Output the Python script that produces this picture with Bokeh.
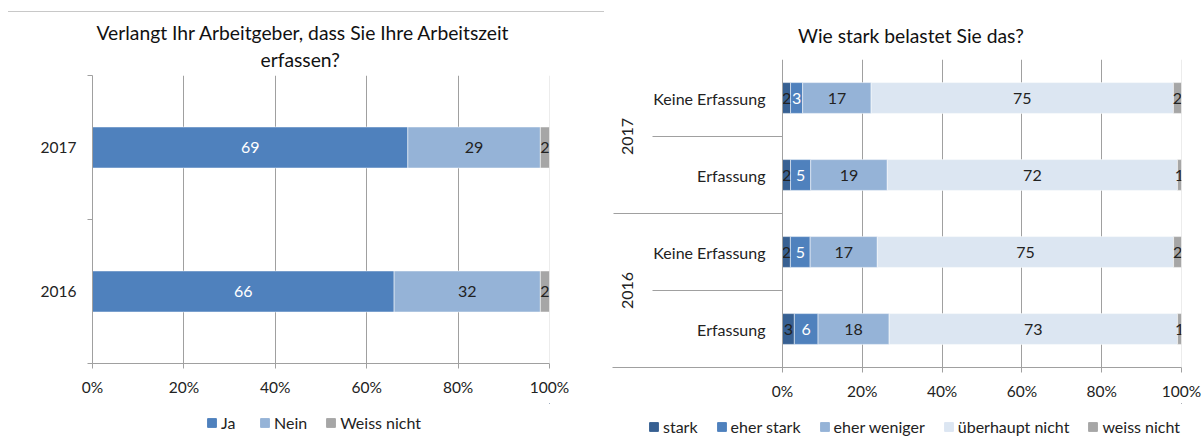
import numpy as np
from bokeh.plotting import figure
from bokeh.models import (Range1d, FixedTicker, NumeralTickFormatter, Span, Title,
                          Legend, LegendItem, ColumnDataSource, Div)
from bokeh.layouts import row, column
from bokeh.core.properties import value
from bokeh.embed import file_html
from bokeh.resources import INLINE

FONT = "Lato"
AXIS = "#A0A0A0"
LIGHT = "#D9D9D9"
TXT = "#222222"

# ---------------- data ----------------
left_title_lines = ["Verlangt Ihr Arbeitgeber, dass Sie Ihre Arbeitszeit", "erfassen?"]
left_years = ["2016", "2017"]            # bottom to top
left_series = ["Ja", "Nein", "Weiss nicht"]
left_ja = [66, 69]
left_nein = [32, 29]
left_weiss = [2, 2]

right_title = "Wie stark belastet Sie das?"
right_groups = ["2016", "2016", "2017", "2017"]          # bottom to top
right_cats = ["Erfassung", "Keine Erfassung", "Erfassung", "Keine Erfassung"]
right_series = ["stark", "eher stark", "eher weniger", "überhaupt nicht", "weiss nicht"]
right_stark = [3, 2, 2, 2]
right_eher_stark = [6, 5, 5, 3]
right_eher_weniger = [18, 17, 19, 17]
right_ueberhaupt = [73, 75, 72, 75]
right_weiss = [1, 2, 1, 2]

tick_values = [0, 0.2, 0.4, 0.6, 0.8, 1.0]
grid_values = [0.2, 0.4, 0.6, 0.8]

left_colors = ["#4F81BD", "#95B3D7", "#A6A6A6"]
left_text_colors = ["white", TXT, TXT]
right_colors = ["#376092", "#4F81BD", "#95B3D7", "#DCE6F2", "#A6A6A6"]
right_text_colors = [TXT, "white", TXT, TXT, TXT]

TITLE_SIZE = "19.3px"


def style_xaxis(p):
    ax = p.xaxis[0]
    ax.ticker = FixedTicker(ticks=tick_values, minor_ticks=[])
    ax.formatter = NumeralTickFormatter(format="0%")
    ax.axis_line_color = AXIS
    ax.major_tick_line_color = AXIS
    ax.major_tick_out = 5
    ax.major_tick_in = 0
    ax.minor_tick_out = 0
    ax.minor_tick_in = 0
    ax.major_label_standoff = 9
    ax.major_label_text_font = FONT
    ax.major_label_text_font_size = "15.5px"
    ax.major_label_text_color = TXT
    p.xgrid.ticker = FixedTicker(ticks=grid_values, minor_ticks=[])
    p.xgrid.grid_line_color = AXIS
    p.ygrid.visible = False
    p.add_layout(Span(location=1.0, dimension="height", line_color=LIGHT, line_width=1))
    p.outline_line_color = None


def stacked(p, series_values, colors, text_colors, centers, height):
    vals = np.array(series_values, dtype=float)          # series x categories
    share = vals / vals.sum(axis=0)
    right = np.cumsum(share, axis=0)
    left = right - share
    sources = []
    for k in range(vals.shape[0]):
        src = ColumnDataSource(dict(
            y=centers, left=left[k], right=right[k],
            mid=(left[k] + right[k]) / 2,
            lab=[str(int(v)) for v in vals[k]]))
        p.hbar(y="y", left="left", right="right", height=height, source=src,
               fill_color=colors[k], line_color="white", line_alpha=0.5, line_width=1)
        p.text(x="mid", y="y", text="lab", source=src, text_align="center",
               text_baseline="middle", text_font=value(FONT),
               text_font_size=value("16px"), text_color=text_colors[k])
        sources.append(src)
    return sources


def legend_strip(width, height, names, colors, sources, x_px, center_from_top, spacing):
    # a strip below the chart that holds only the legend; its ranges lie outside
    # the data, so its bars (same sources as the chart) are not shown
    q = figure(width=width, height=height, x_range=Range1d(-30, -20),
               y_range=Range1d(-30, -20), output_backend="svg", toolbar_location=None,
               x_axis_location=None, y_axis_location=None, min_border=0,
               min_border_left=0, min_border_right=0, min_border_top=0,
               min_border_bottom=0)
    q.outline_line_color = None
    q.center = []          # no grid lines in the strip
    items = []
    for n, c, s in zip(names, colors, sources):
        r = q.hbar(y="y", left="left", right="right", height=0.5, source=s,
                   fill_color=c, line_color=c)
        items.append(LegendItem(label=n, renderers=[r]))
    gh = 11
    leg = Legend(items=items, location=(x_px, height - center_from_top - 8),
                 orientation="horizontal", glyph_width=11, glyph_height=gh,
                 label_height=gh, label_standoff=4, padding=0, margin=0, spacing=spacing,
                 border_line_color=None, background_fill_alpha=0,
                 label_text_font=FONT, label_text_font_size="16px",
                 label_text_color=TXT, label_text_baseline="middle")
    q.add_layout(leg)
    return q


def add_titles(p, lines, widths, center_px, frame_left_px, standoffs):
    # first added sits closest to the frame
    for line, w, so in reversed(list(zip(lines, widths, standoffs))):
        p.add_layout(Title(text=line, align="left", offset=center_px - w / 2 - frame_left_px,
                           text_font=FONT, text_font_size=TITLE_SIZE,
                           text_font_style="normal", text_color="#111111", standoff=so),
                     "above")


LEG_TOP = 403
LEG_H = 445 - LEG_TOP

# ---------------- left chart ----------------
L_PAGE_TOP = 12
L_W = 604
L_H = LEG_TOP - L_PAGE_TOP
L_ML, L_MT = 92, 63
L_FW, L_FH = 457, 288
L_MR = L_W - L_ML - L_FW
L_MB = L_H - L_MT - L_FH
L_FL = L_ML

pl = figure(width=L_W, height=L_H, x_range=Range1d(0, 1),
            y_range=Range1d(0, len(left_years)), output_backend="svg",
            toolbar_location=None, min_border_left=L_ML, min_border_right=L_MR,
            min_border_top=L_MT, min_border_bottom=L_MB)
style_xaxis(pl)
lc = np.arange(len(left_years)) + 0.5
ya = pl.yaxis[0]
ya.ticker = FixedTicker(ticks=list(lc), minor_ticks=list(range(len(left_years) + 1)))
ya.major_label_overrides = {float(c): y for c, y in zip(lc, left_years)}
ya.axis_line_color = AXIS
ya.major_tick_out = 0
ya.major_tick_in = 0
ya.minor_tick_out = 5
ya.minor_tick_in = 0
ya.minor_tick_line_color = AXIS
ya.major_label_standoff = 11
ya.major_label_text_font = FONT
ya.major_label_text_font_size = "15.5px"
ya.major_label_text_color = TXT

lsrc = stacked(pl, [left_ja, left_nein, left_weiss], left_colors, left_text_colors, lc, 0.285)
add_titles(pl, left_title_lines, [412, 84], 302, L_FL, [-4.5, 9])

topline = Div(text="", width=596, height=1, margin=(11, 0, 0, 8),
              styles={"background-color": "#C8C8C8"})
# legend strip frame is aligned with the chart frame (left edge at L_FL)
lleg = legend_strip(L_W, LEG_H, left_series, left_colors, lsrc, 206 - L_FL,
                    423.5 - LEG_TOP, 18)

# ---------------- right chart ----------------
R_PAGE_LEFT = L_W
R_W = 1202 - R_PAGE_LEFT
R_H = LEG_TOP
R_FL = 612                 # frame left on page
ZERO_PX, FULL_PX = 782, 1181
R_MT, R_FH = 59, 308
R_MB = R_H - R_MT - R_FH
R_ML = R_FL - R_PAGE_LEFT
R_MR = R_W - R_ML - (FULL_PX - R_FL)


def px_to_x(px):
    return (px - ZERO_PX) / (FULL_PX - ZERO_PX)


pr = figure(width=R_W, height=R_H, x_range=Range1d(px_to_x(R_FL), 1.0),
            y_range=Range1d(0, len(right_cats)), output_backend="svg",
            toolbar_location=None, y_axis_location=None,
            min_border_left=R_ML, min_border_right=R_MR,
            min_border_top=R_MT, min_border_bottom=R_MB)
style_xaxis(pr)
pr.add_layout(Span(location=0, dimension="height", line_color=AXIS, line_width=1))
rc = np.arange(len(right_cats)) + 0.5
rsrc = stacked(pr, [right_stark, right_eher_stark, right_eher_weniger, right_ueberhaupt,
                    right_weiss], right_colors, right_text_colors, rc, 0.4)

# category labels
pr.text(x=[px_to_x(765)] * len(right_cats), y=rc, text=right_cats, text_align="right",
        text_baseline="middle", text_font=value(FONT), text_font_size=value("16px"),
        text_color=TXT)
# group labels
groups = list(dict.fromkeys(right_groups))
gy = [float(np.mean([c for c, g in zip(rc, right_groups) if g == grp])) for grp in groups]
pr.text(x=[px_to_x(627)] * len(groups), y=gy, text=groups, angle=np.pi / 2,
        text_align="center", text_baseline="middle", text_font=value(FONT),
        text_font_size=value("16px"), text_color=TXT)
# separators
x0s, ys = [], []
for i in range(len(right_cats) - 1):
    x0s.append(px_to_x(613) if right_groups[i] != right_groups[i + 1] else px_to_x(652))
    ys.append(i + 1.0)
pr.segment(x0=x0s, y0=ys, x1=[0.0] * len(ys), y1=ys, line_color=AXIS, line_width=1)

add_titles(pr, [right_title], [223], 909, R_FL, [26])
rleg = legend_strip(R_W, LEG_H, right_series, right_colors, rsrc, 648 - R_FL,
                    428 - LEG_TOP, 18)

layout = row(column(topline, pl, lleg), column(pr, rleg))
open("out.html", "w").write(file_html(layout, INLINE))
